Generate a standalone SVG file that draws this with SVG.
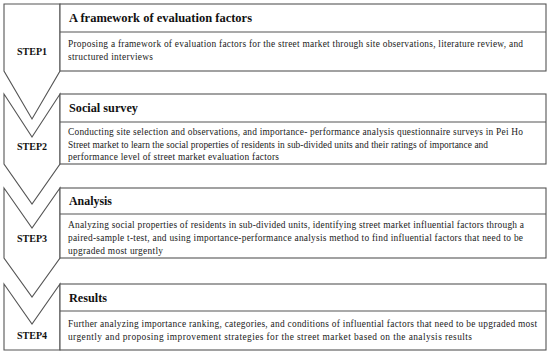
<svg xmlns="http://www.w3.org/2000/svg" width="550" height="354" viewBox="0 0 550 354">
<style>
.shape{fill:#fff;stroke:#555;stroke-width:1.1}
.div{stroke:#555;stroke-width:1.1}
.step{font-family:"Liberation Serif","DejaVu Serif",serif;font-weight:bold;font-size:10px;fill:#111;text-anchor:middle}
.title{font-family:"Liberation Serif","DejaVu Serif",serif;font-weight:bold;font-size:13px;fill:#111}
.body{font-family:"Liberation Serif","DejaVu Serif",serif;font-size:9.4px;fill:#222}
</style>
<rect width="550" height="354" fill="#fff"/>
<g id="connectors"></g>
<g id="step1">
<path class="shape" d="M4,4 H60 V71 L32,119 L4,71 Z"/>
<text class="step" x="32" y="55">STEP1</text>
</g>
<g id="box1">
<rect class="shape" x="60" y="4" width="486" height="67"/>
<line class="div" x1="60" y1="32" x2="546" y2="32"/>
<text class="title" x="69" y="22" textLength="183" lengthAdjust="spacingAndGlyphs">A framework of evaluation factors</text>
<text class="body" x="68" y="47" textLength="455" lengthAdjust="spacing">Proposing a framework of evaluation factors for the street market through site observations, literature review, and</text>
<text class="body" x="68" y="60" textLength="85" lengthAdjust="spacing">structured interviews</text>
</g>
<g id="step2">
<path class="shape" d="M4,94 L32,137 L60,94 V164 L32,204 L4,164 Z"/>
<text class="step" x="32" y="150">STEP2</text>
</g>
<g id="box2">
<rect class="shape" x="60" y="94" width="486" height="70"/>
<line class="div" x1="60" y1="122" x2="546" y2="122"/>
<text class="title" x="69" y="112" textLength="69" lengthAdjust="spacingAndGlyphs">Social survey</text>
<text class="body" x="68" y="135" textLength="455" lengthAdjust="spacing">Conducting site selection and observations, and importance- performance analysis questionnaire surveys in Pei Ho</text>
<text class="body" x="68" y="148" textLength="420" lengthAdjust="spacing">Street market to learn the social properties of residents in sub-divided units and their ratings of importance and</text>
<text class="body" x="68" y="160" textLength="211" lengthAdjust="spacing">performance level of street market evaluation factors</text>
</g>
<g id="step3">
<path class="shape" d="M4,188 L32,228 L60,188 V258 L32,297 L4,258 Z"/>
<text class="step" x="32" y="242">STEP3</text>
</g>
<g id="box3">
<rect class="shape" x="60" y="188" width="486" height="70"/>
<line class="div" x1="60" y1="214" x2="546" y2="214"/>
<text class="title" x="69" y="205" textLength="43" lengthAdjust="spacingAndGlyphs">Analysis</text>
<text class="body" x="68" y="228" textLength="456" lengthAdjust="spacing">Analyzing social properties of residents in sub-divided units, identifying street market influential factors through a</text>
<text class="body" x="68" y="241" textLength="455" lengthAdjust="spacing">paired-sample t-test, and using importance-performance analysis method to find influential factors that need to be</text>
<text class="body" x="68" y="254" textLength="95" lengthAdjust="spacing">upgraded most urgently</text>
</g>
<g id="step4">
<path class="shape" d="M4,284 L32,324 L60,284 V350 H4 Z"/>
<text class="step" x="32" y="339">STEP4</text>
</g>
<g id="box4">
<rect class="shape" x="60" y="284" width="486" height="66"/>
<line class="div" x1="60" y1="311" x2="546" y2="311"/>
<text class="title" x="69" y="302" textLength="38" lengthAdjust="spacingAndGlyphs">Results</text>
<text class="body" x="68" y="327" textLength="469" lengthAdjust="spacing">Further analyzing importance ranking, categories, and conditions of influential factors that need to be upgraded most</text>
<text class="body" x="68" y="340" textLength="404" lengthAdjust="spacing">urgently and proposing improvement strategies for the street market based on the analysis results</text>
</g>
</svg>
